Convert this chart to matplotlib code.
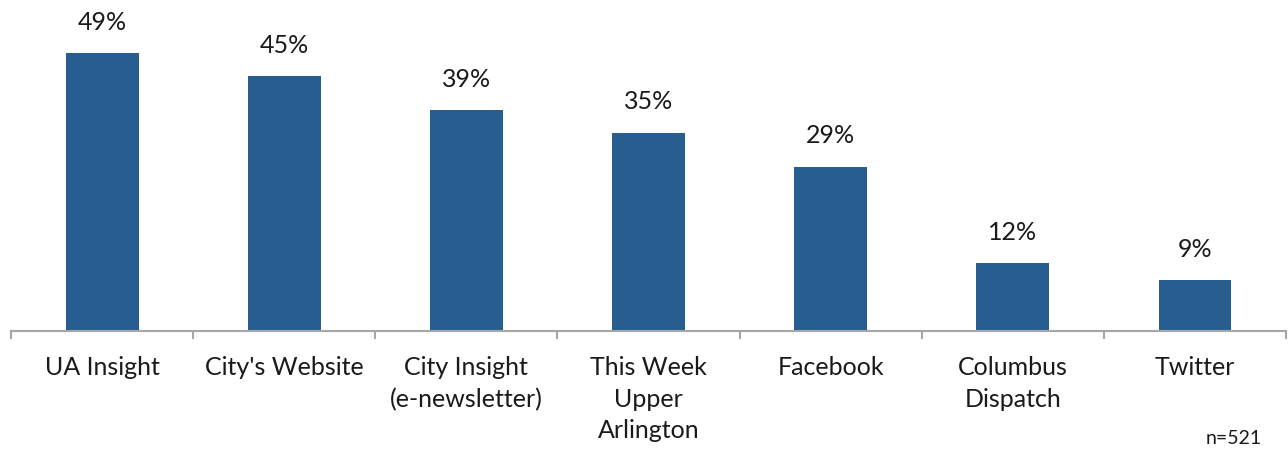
import matplotlib.pyplot as plt
import numpy as np

# Data
categories = ["UA Insight", "City's Website", "City Insight\n(e-newsletter)",
              "This Week\nUpper\nArlington", "Facebook", "Columbus\nDispatch", "Twitter"]
values = [49, 45, 39, 35, 29, 12, 9]
sample_note = "n=521"

BAR_COLOR = "#275D8F"
AXIS_COLOR = "#A6A6A6"
FONT = "Lato"

fig = plt.figure(figsize=(12.88, 4.49), dpi=100)
ax = fig.add_axes([11 / 1288, 118 / 449, 1275 / 1288, 331 / 449])

x = np.arange(len(categories))
bars = ax.bar(x, values, width=0.4, color=BAR_COLOR)

for xi, v in zip(x, values):
    ax.annotate(f"{v}%", (xi, v), textcoords="offset points", xytext=(0, 14),
                ha="center", va="bottom", fontsize=18, family=FONT, color="#1a1a1a")

ax.set_xlim(-0.5, len(categories) - 0.5)
ax.set_ylim(0, 58.4)

# category boundary ticks
ax.set_xticks(np.arange(len(categories) + 1) - 0.5)
ax.set_xticklabels([])
ax.tick_params(axis="x", length=6, width=1.5, color=AXIS_COLOR, direction="out")
ax.set_xticks(x, minor=True)
ax.set_xticklabels(categories, minor=True, fontsize=18, family=FONT,
                   color="#1a1a1a", linespacing=1.45)
ax.tick_params(axis="x", which="minor", length=0, pad=18)

ax.set_yticks([])
for side in ["top", "right", "left"]:
    ax.spines[side].set_visible(False)
ax.spines["bottom"].set_color(AXIS_COLOR)
ax.spines["bottom"].set_linewidth(1.5)

fig.text(1262 / 1288, 1 - 438 / 449, sample_note, ha="right", va="center",
         fontsize=14, family=FONT, color="#1a1a1a")

fig.savefig("out.png", dpi=100)
